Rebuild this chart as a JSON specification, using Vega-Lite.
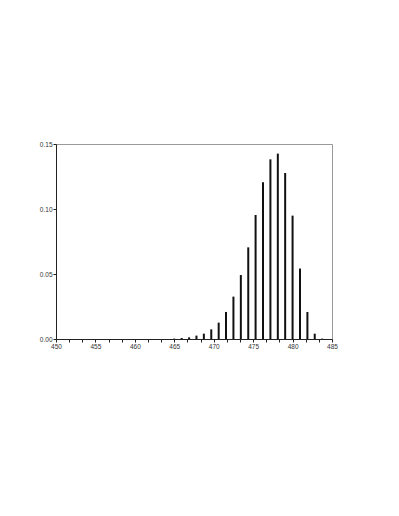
{
  "$schema": "https://vega.github.io/schema/vega-lite/v6.json",
  "width": 276,
  "height": 195,
  "autosize": {"type": "none"},
  "padding": {"left": 56, "top": 144, "right": 67, "bottom": 177},
  "background": "white",
  "config": {
    "view": {"stroke": "#999999", "strokeWidth": 1},
    "axis": {"labelFont": "Liberation Sans", "labelFontSize": 6.5, "labelColor": "#333333", "domainColor": "#222222", "tickColor": "#222222", "tickSize": 3, "grid": false, "labelPadding": 1, "domainWidth": 1, "tickWidth": 1}
  },
  "data": {"values": [
    {"x": 465.0, "p": 0.0003},
    {"x": 465.94, "p": 0.0008},
    {"x": 466.88, "p": 0.0013},
    {"x": 467.81, "p": 0.0026},
    {"x": 468.75, "p": 0.0041},
    {"x": 469.69, "p": 0.0074},
    {"x": 470.63, "p": 0.0126},
    {"x": 471.56, "p": 0.0208},
    {"x": 472.5, "p": 0.0326},
    {"x": 473.44, "p": 0.0492},
    {"x": 474.38, "p": 0.0705},
    {"x": 475.31, "p": 0.0954},
    {"x": 476.25, "p": 0.1205},
    {"x": 477.19, "p": 0.1382},
    {"x": 478.13, "p": 0.1426},
    {"x": 479.06, "p": 0.1277},
    {"x": 480.0, "p": 0.0949},
    {"x": 480.94, "p": 0.0542},
    {"x": 481.88, "p": 0.0208},
    {"x": 482.81, "p": 0.0041},
    {"x": 483.75, "p": 0.0003}
  ]},
  "mark": {"type": "rule", "strokeWidth": 2, "color": "#111111"},
  "encoding": {
    "x": {"field": "x", "type": "quantitative", "scale": {"domain": [450, 485], "nice": false, "zero": false},
      "axis": {"title": null, "values": [450, 451.6667, 453.3333, 455, 456.6667, 458.3333, 460, 461.6667, 463.3333, 465, 466.6667, 468.3333, 470, 471.6667, 473.3333, 475, 476.6667, 478.3333, 480, 481.6667, 483.3333, 485],
        "labelExpr": "abs(datum.value/5 - round(datum.value/5)) < 0.01 ? format(datum.value, 'd') : ''", "labelPadding": 1, "labelFlush": false}},
    "y": {"field": "p", "type": "quantitative", "scale": {"domain": [0, 0.15], "nice": false},
      "axis": {"title": null, "values": [0, 0.05, 0.1, 0.15], "format": ".2f"}},
    "y2": {"datum": 0}
  }
}
